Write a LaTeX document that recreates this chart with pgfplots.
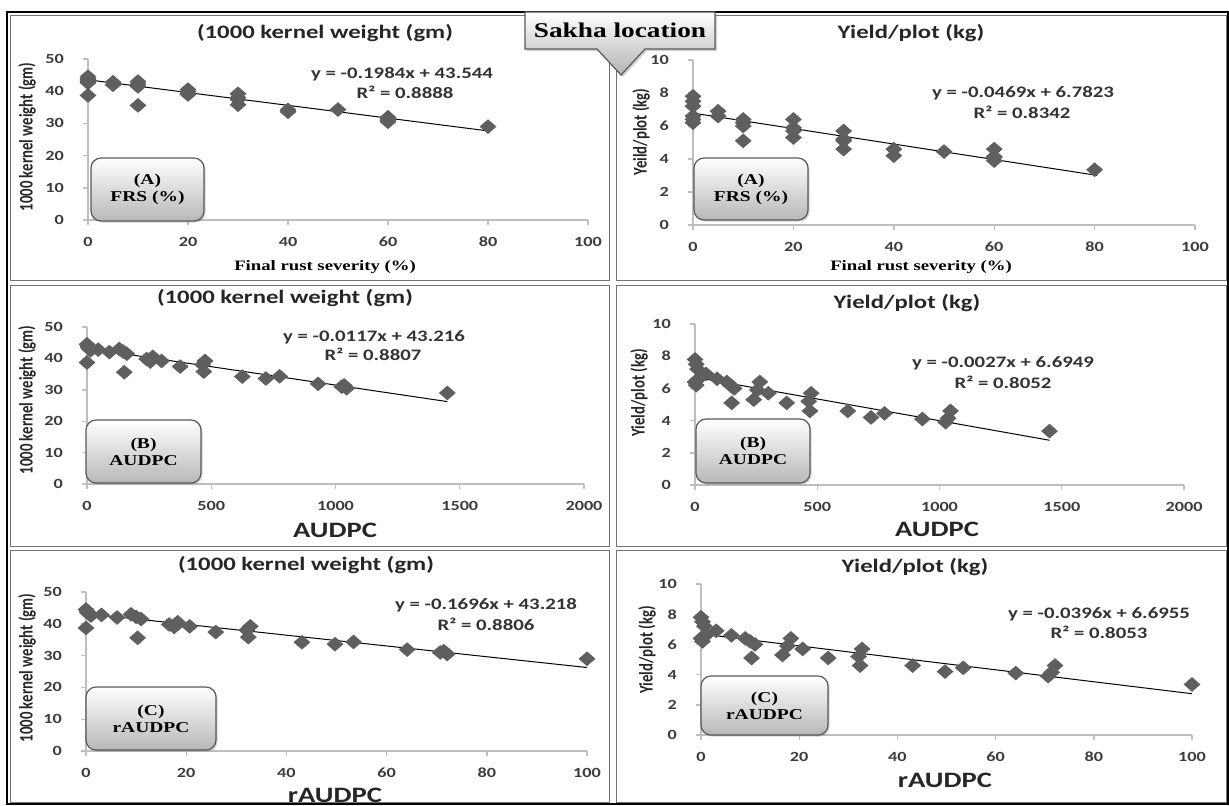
\documentclass[border=0pt]{standalone}
\usepackage{pgfplots}
\pgfplotsset{compat=1.18}
\usepackage{pgfplotstable}
\usepackage{fontspec}
\setmainfont{Carlito}
\newfontfamily\tnr{Liberation Serif}
\usetikzlibrary{shadows}

\definecolor{mk}{RGB}{95,95,95}
\definecolor{axc}{RGB}{190,190,190}
\definecolor{lbl}{RGB}{60,60,60}

% one row per genotype: final rust severity (%), AUDPC, rAUDPC,
% 1000 kernel weight (gm), yield/plot (kg)
\pgfplotstableread{
FRS AUDPC rAUDPC KW Yield
0 0 0 44.5 7.8
0 5 0.3 43.8 7.5
0 10 0.7 43.0 7.2
0 15 1.0 42.6 6.6
0 0 0 38.7 6.4
0 5 0.3 43.5 6.2
5 45 3.1 42.8 6.9
5 90 6.2 42.0 6.6
10 130 9.0 43.0 6.4
10 145 10.0 42.2 6.2
10 160 11.0 41.5 6.0
10 150 10.3 35.6 5.1
20 240 16.6 39.8 5.3
20 255 17.6 39.0 5.9
20 265 18.3 40.5 6.4
20 300 20.7 39.2 5.7
30 375 25.9 37.4 5.1
30 475 32.8 39.2 5.7
30 470 32.4 35.8 4.6
30 465 32.1 38.0 5.2
40 625 43.1 34.2 4.6
40 720 49.7 33.6 4.2
50 775 53.4 34.3 4.45
60 930 64.1 31.9 4.1
60 1025 70.7 31.0 3.9
60 1045 72.1 30.5 4.6
60 1035 71.4 31.4 4.15
80 1450 100 29.0 3.35
}\sakha

\pgfplotsset{
  panel/.style={
    scale only axis, anchor=south west, clip=false,
    axis x line*=bottom, axis y line*=left,
    axis line style={draw=axc, line width=0.7pt},
    tick align=outside, major tick length=2.5pt,
    tick style={draw=axc, line width=0.7pt},
    ticklabel style={font=\bfseries\fontsize{7}{8}\selectfont, text=lbl, xscale=1.3},
    xticklabel shift=2.5pt, yticklabel shift=5pt,
    /pgf/number format/assume math mode=true,
    /pgf/number format/1000 sep={},
    scaled ticks=false, xmin=0, ymin=0,
  },
  pts/.style={only marks, mark=square*, mark size=2.4pt,
    mark options={fill=mk, draw=mk, xscale=1.15, rotate=45}},
  fit/.style={black, line width=0.5pt, mark=none},
}

\tikzset{
  ttl/.style={font=\bfseries\fontsize{9.5}{11}\selectfont, text=black!85, xscale=1.3},
  eq/.style={font=\bfseries\fontsize{8}{9}\selectfont, text=black!80, xscale=1.3},
  ylab/.style={font=\bfseries\fontsize{7.4}{8}\selectfont, text=black!85, xscale=1.3, rotate=90},
  xfrs/.style={font=\tnr\bfseries\fontsize{7.2}{8}\selectfont, xscale=1.3},
  xaud/.style={font=\bfseries\fontsize{11}{13}\selectfont, text=black!85, xscale=1.3},
  tag/.style={draw=black!65, line width=0.6pt, rounded corners=5pt,
    top color=white, bottom color=black!28,
    drop shadow={shadow xshift=0.8pt, shadow yshift=-0.8pt, opacity=0.35}},
  tagtxt/.style={font=\tnr\bfseries\fontsize{7.5}{8.5}\selectfont, align=center, xscale=1.3},
}

\begin{document}
\begin{tikzpicture}
\useasboundingbox (0,0) rectangle (614.5pt,-402.5pt);

% frames, in reference pixels
\begin{scope}[x=0.5pt, y=-0.5pt]
  \draw[black, line width=0.7pt] (7,12) rectangle (1228,804);
  \foreach \t/\b in {15/280, 285/546, 550/802} {
    \draw[black!55, line width=0.5pt] (10,\t) rectangle (609,\b);
    \draw[black!55, line width=0.5pt] (616,\t) rectangle (1226,\b);
  }
\end{scope}

% (A) FRS, 1000 kernel weight
\begin{axis}[panel, at={(44pt,-110pt)}, width=250pt, height=80.5pt,
  xmax=100, ymax=50, xtick={0,20,...,100}, ytick={0,10,...,50}]
\addplot[pts] table[x=FRS, y=KW] {\sakha};
\addplot[fit] coordinates {(0,43.544) (80.5,27.573)};
\end{axis}

% (A) FRS, yield/plot
\begin{axis}[panel, at={(346.5pt,-112.5pt)}, width=251pt, height=82.5pt,
  xmax=100, ymax=10, xtick={0,20,...,100}, ytick={0,2,...,10}]
\addplot[pts] table[x=FRS, y=Yield] {\sakha};
\addplot[fit] coordinates {(0,6.7823) (80.5,3.0068)};
\end{axis}

% (B) AUDPC, 1000 kernel weight
\begin{axis}[panel, at={(43.5pt,-242pt)}, width=248.5pt, height=78.5pt,
  xmax=2000, ymax=50, xtick={0,500,...,2000}, ytick={0,10,...,50}]
\addplot[pts] table[x=AUDPC, y=KW] {\sakha};
\addplot[fit] coordinates {(0,43.216) (1450,26.251)};
\end{axis}

% (B) AUDPC, yield/plot
\begin{axis}[panel, at={(347.5pt,-242.5pt)}, width=244.5pt, height=80.5pt,
  xmax=2000, ymax=10, xtick={0,500,...,2000}, ytick={0,2,...,10}]
\addplot[pts] table[x=AUDPC, y=Yield] {\sakha};
\addplot[fit] coordinates {(0,6.6949) (1450,2.7799)};
\end{axis}

% (C) rAUDPC, 1000 kernel weight
\begin{axis}[panel, at={(43pt,-375.5pt)}, width=250.5pt, height=79.5pt,
  xmax=100, ymax=50, xtick={0,20,...,100}, ytick={0,10,...,50}]
\addplot[pts] table[x=rAUDPC, y=KW] {\sakha};
\addplot[fit] coordinates {(0,43.218) (100,26.258)};
\end{axis}

% (C) rAUDPC, yield/plot
\begin{axis}[panel, at={(350.5pt,-367.5pt)}, width=245.5pt, height=75.5pt,
  xmax=100, ymax=10, xtick={0,20,...,100}, ytick={0,2,...,10}]
\addplot[pts] table[x=rAUDPC, y=Yield] {\sakha};
\addplot[fit] coordinates {(0,6.6955) (100,2.7355)};
\end{axis}

\begin{scope}[x=0.5pt, y=-0.5pt]
  % titles
  \node[ttl] at (325,33) {(1000 kernel weight (gm)};
  \node[ttl] at (911,33) {Yield/plot (kg)};
  \node[ttl] at (285,298) {(1000 kernel weight (gm)};
  \node[ttl] at (907,303) {Yield/plot (kg)};
  \node[ttl] at (306,565) {(1000 kernel weight (gm)};
  \node[ttl] at (915,567) {Yield/plot (kg)};
  % y labels
  \node[ylab] at (27,137) {1000 kernel weight (gm)};
  \node[ylab] at (641,132) {Yeild/plot (kg)};
  \node[ylab] at (27,400) {1000 kernel weight (gm)};
  \node[ylab] at (639,393) {Yield/plot (kg)};
  \node[ylab] at (27,668) {1000 kernel weight (gm)};
  \node[ylab] at (647,650) {Yield/plot (kg)};
  % x labels
  \node[xfrs] at (325,267) {Final rust severity (\%)};
  \node[xfrs] at (921,267) {Final rust severity (\%)};
  \node[xaud] at (335,530) {AUDPC};
  \node[xaud] at (937,529) {AUDPC};
  \node[xaud] at (335,795) {rAUDPC};
  \node[xaud] at (945,780) {rAUDPC};
  % trend equations
  \node[eq] at (402,74) {y = -0.1984x + 43.544};
  \node[eq] at (405,92) {R² = 0.8888};
  \node[eq] at (1023,93) {y = -0.0469x + 6.7823};
  \node[eq] at (1022,112) {R² = 0.8342};
  \node[eq] at (374,337) {y = -0.0117x + 43.216};
  \node[eq] at (373,354) {R² = 0.8807};
  \node[eq] at (1003,363) {y = -0.0027x + 6.6949};
  \node[eq] at (1003,382) {R² = 0.8052};
  \node[eq] at (486,605) {y = -0.1696x + 43.218};
  \node[eq] at (486,624) {R² = 0.8806};
  \node[eq] at (1099,614) {y = -0.0396x + 6.6955};
  \node[eq] at (1099,632) {R² = 0.8053};
  % index boxes
  \draw[tag] (91,158) rectangle (204,221);
  \node[tagtxt] at (147.5,189.5) {(A)\\FRS (\%)};
  \draw[tag] (694,158) rectangle (808,220);
  \node[tagtxt] at (751,189) {(A)\\FRS (\%)};
  \draw[tag] (86,420) rectangle (201,483);
  \node[tagtxt] at (143.5,451.5) {(B)\\AUDPC};
  \draw[tag] (696,419) rectangle (810,483);
  \node[tagtxt] at (753,451) {(B)\\AUDPC};
  \draw[tag] (86,687) rectangle (216,750);
  \node[tagtxt] at (151,718.5) {(C)\\rAUDPC};
  \draw[tag] (701,676) rectangle (828,735);
  \node[tagtxt] at (764.5,705.5) {(C)\\rAUDPC};
  % location callout
  \draw[black!65, line width=0.6pt, top color=white, bottom color=black!30,
    drop shadow={shadow xshift=1pt, shadow yshift=-1pt, opacity=0.35}]
    (525,12) -- (715,12) -- (715,49) -- (645,49) -- (621,75) -- (597,49) -- (525,49) -- cycle;
  \node[font=\tnr\bfseries\fontsize{10.5}{12}\selectfont, xscale=1.3] at (620,30) {Sakha location};
\end{scope}
\end{tikzpicture}
\end{document}
